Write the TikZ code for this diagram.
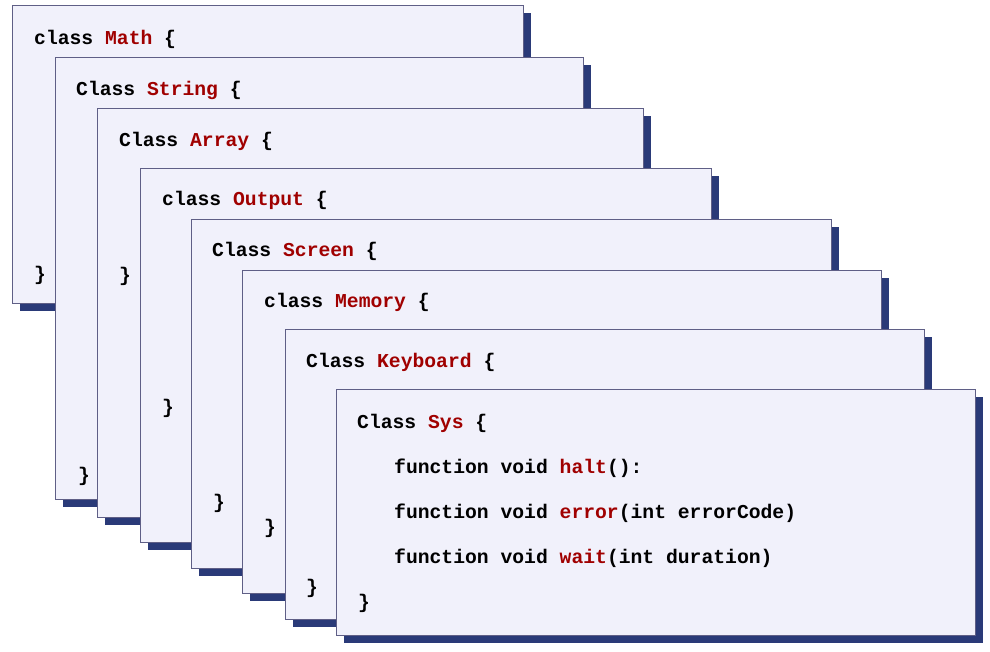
\documentclass[tikz,border=0pt]{standalone}
\usepackage{fontspec}
\setmonofont{Liberation Mono}
\usetikzlibrary{shadows}
\definecolor{cardfill}{HTML}{F1F1FB}
\definecolor{cardline}{HTML}{5F5F86}
\definecolor{shadowblue}{HTML}{2A3A78}
\definecolor{kwred}{HTML}{A00000}
\begin{document}
\begin{tikzpicture}[x=1pt,y=-1pt,
  card/.style={draw=cardline, line width=1.1pt, fill=cardfill, anchor=north west, inner sep=0pt,
    general shadow={shadow xshift=7pt, shadow yshift=-7pt, fill=shadowblue}},
  code/.style={anchor=base west, inner sep=0pt, text=black, font=\fontsize{19.7}{22}\ttfamily\bfseries}]
\useasboundingbox (0,0) rectangle (990,651);
\newcommand\mkcard[6]{%
  \node[card, minimum width=#4pt, minimum height=#5pt] (c#1) at (#2,#3) {};}
\newcommand\kw[1]{\textcolor{kwred}{#1}}
% card 1
\mkcard{1}{12}{5}{511}{298}{}
\node[code] (t1) at (34,44) {class \kw{Math} \{};
\node[code] (e1) at (34,280) {\}};
% card 2
\mkcard{2}{55}{57}{528}{442}{}
\node[code] (t2) at (76,95) {Class \kw{String} \{};
\node[code] (e2) at (78,481) {\}};
% card 3
\mkcard{3}{97}{108}{546}{409}{}
\node[code] (t3) at (119,146) {Class \kw{Array} \{};
\node[code] (e3) at (119,281) {\}};
% card 4
\mkcard{4}{140}{168}{571}{374}{}
\node[code] (t4) at (162,205) {class \kw{Output} \{};
\node[code] (e4) at (162,413) {\}};
% card 5
\mkcard{5}{191}{219}{640}{349}{}
\node[code] (t5) at (212,256) {Class \kw{Screen} \{};
\node[code] (e5) at (213,508) {\}};
% card 6
\mkcard{6}{242}{270}{639}{323}{}
\node[code] (t6) at (264,307) {class \kw{Memory} \{};
\node[code] (e6) at (264,533) {\}};
% card 7
\mkcard{7}{285}{329}{639}{290}{}
\node[code] (t7) at (306,367) {Class \kw{Keyboard} \{};
\node[code] (e7) at (306,593) {\}};
% card 8
\mkcard{8}{336}{389}{639}{246}{}
\node[code] (t8) at (357,428) {Class \kw{Sys} \{};
\node[code] (f1) at (394,473) {function void \kw{halt}():};
\node[code] (f2) at (394,518) {function void \kw{error}(int errorCode)};
\node[code] (f3) at (394,563) {function void \kw{wait}(int duration)};
\node[code] (e8) at (358,608) {\}};
\end{tikzpicture}
\end{document}
